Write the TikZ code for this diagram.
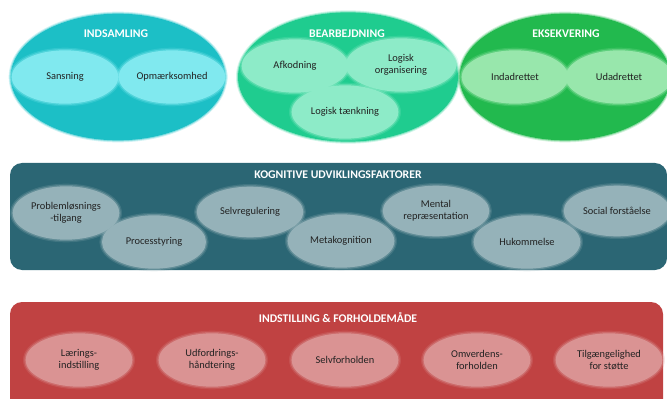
\documentclass[tikz,border=0pt]{standalone}
\usepackage{fontspec}
\setmainfont{Carlito}
\usetikzlibrary{shapes.geometric}
\definecolor{cInd}{HTML}{1CBFC6}
\definecolor{cIndL}{HTML}{80E9EF}
\definecolor{cBear}{HTML}{1FCC8F}
\definecolor{cBearL}{HTML}{8DEBC8}
\definecolor{cEks}{HTML}{22B94E}
\definecolor{cEksL}{HTML}{98E7AC}
\definecolor{cKog}{HTML}{2B6674}
\definecolor{cKogL}{HTML}{95B2B9}
\definecolor{cInst}{HTML}{C04242}
\definecolor{cInstL}{HTML}{DA9393}
\definecolor{cTxt}{HTML}{222222}
\tikzset{
  bigel/.style={ellipse, inner sep=0pt, minimum width=160pt, minimum height=95pt,
    fill=#1, preaction={draw=#1, line width=3pt, opacity=0.2},
    preaction={draw=#1, line width=1.5pt, opacity=0.4}},
  smallel/.style={ellipse, inner sep=0pt, minimum width=80pt, minimum height=40pt,
    fill=#1, align=center, text=cTxt, font=\fontsize{7.8}{9.3}\selectfont,
    preaction={draw=#1, line width=4pt, opacity=0.2},
    preaction={draw=#1, line width=2pt, opacity=0.4}},
  band/.style={rounded corners=9pt, fill=#1, draw=none},
  title/.style={text=white, font=\bfseries\fontsize{8.8}{10}\selectfont, inner sep=0pt}
}
\begin{document}
\begin{tikzpicture}[x=0.75pt,y=-0.75pt]
\useasboundingbox (0,0) rectangle (667,399);
\clip (0,0) rectangle (667,399);
% top ellipses
\node[bigel=cInd, minimum width=161pt, minimum height=95pt] (ind) at (118,77) {};
\node[bigel=cBear, minimum width=165pt, minimum height=97pt] (bear) at (348,77) {};
\node[bigel=cEks, minimum width=158pt, minimum height=95pt] (eks) at (565,77) {};
\node[title] (indt) at (116,34) {INDSAMLING};
\node[title] (beart) at (347,34) {BEARBEJDNING};
\node[title] (ekst) at (566,34) {EKSEKVERING};
\node[smallel=cIndL] (sans) at (65,77) {Sansning};
\node[smallel=cIndL] (opm) at (172,77) {Opmærksomhed};
\node[smallel=cBearL] (afk) at (295,66) {Afkodning};
\node[smallel=cBearL, minimum width=83pt] (logorg) at (401,65) {Logisk\\organisering};
\node[smallel=cBearL] (logt) at (345,112) {Logisk tænkning};
\node[smallel=cEksL] (indad) at (515,77) {Indadrettet};
\node[smallel=cEksL] (udad) at (619,77) {Udadrettet};
% middle band
\path[band=cKog] (10,163) rectangle (667,270);
\node[title] (kogt) at (338,175) {KOGNITIVE UDVIKLINGSFAKTORER};
\node[smallel=cKogL] (prob) at (66,213) {Problemløsnings\\-tilgang};
\node[smallel=cKogL, minimum width=78pt] (proc) at (154,242) {Processtyring};
\node[smallel=cKogL, minimum height=38pt] (selvr) at (250,212) {Selvregulering};
\node[smallel=cKogL] (meta) at (341,241) {Metakognition};
\node[smallel=cKogL, minimum height=38pt] (ment) at (436,211) {Mental\\repræsentation};
\node[smallel=cKogL] (huk) at (527,242) {Hukommelse};
\node[smallel=cKogL, minimum height=38pt] (soc) at (617,211) {Social forståelse};
% bottom band
\path[band=cInst] (10,302) rectangle (663,420);
\node[title] (instt) at (338,317) {INDSTILLING \& FORHOLDEMÅDE};
\node[smallel=cInstL] (laer) at (79,360) {Lærings-\\indstilling};
\node[smallel=cInstL] (udf) at (212,360) {Udfordrings-\\håndtering};
\node[smallel=cInstL] (selvf) at (345,360) {Selvforholden};
\node[smallel=cInstL] (omv) at (477,360) {Omverdens-\\forholden};
\node[smallel=cInstL] (tilg) at (609,360) {Tilgængelighed\\for støtte};
\end{tikzpicture}
\end{document}
